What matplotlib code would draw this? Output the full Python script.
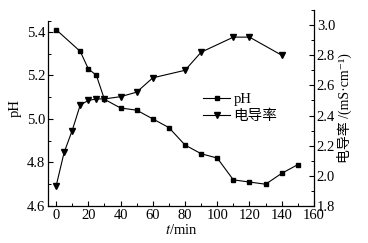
import numpy as np
import matplotlib.pyplot as plt
from matplotlib.ticker import MultipleLocator, FixedLocator

plt.rcParams['font.family'] = ['Liberation Serif', 'Noto Sans CJK SC', 'DejaVu Serif']
plt.rcParams['mathtext.fontset'] = 'stix'

# ---------------------------- dados ----------------------------
t_ph = [0, 15, 20, 25, 30, 40, 50, 60, 70, 80, 90, 100, 110, 120, 130, 140, 150]
ph = [5.41, 5.31, 5.23, 5.20, 5.09, 5.05, 5.04, 5.00, 4.96, 4.88, 4.84, 4.82,
      4.72, 4.71, 4.70, 4.75, 4.79]

t_cond = [0, 5, 10, 15, 20, 25, 30, 40, 50, 60, 80, 90, 110, 120, 140]
cond = [1.93, 2.155, 2.30, 2.47, 2.50, 2.51, 2.51, 2.525, 2.555, 2.65, 2.70,
        2.82, 2.92, 2.92, 2.80]

x_ticks = [0, 20, 40, 60, 80, 100, 120, 140, 160]
ph_ticks = [4.6, 4.8, 5.0, 5.2, 5.4]
cond_ticks = [1.8, 2.0, 2.2, 2.4, 2.6, 2.8, 3.0]

fig = plt.figure(figsize=(3.68, 2.43), dpi=100)
ax = fig.add_axes([0.1304, 0.1523, 0.7228, 0.8066])
ax2 = ax.twinx()

l1, = ax.plot(t_ph, ph, color='black', lw=0.8, marker='s', ms=3.2, label='pH')
l2, = ax2.plot(t_cond, cond, color='black', lw=0.8, marker='v', ms=4, label='电导率')

ax.set_xlim(-5, 160)
ax.set_ylim(4.6, 5.5)
ax2.set_ylim(1.8, 3.1)

ax.set_xticks(x_ticks)
ax.xaxis.set_minor_locator(MultipleLocator(10))
ax.set_yticks(ph_ticks)
ax.yaxis.set_minor_locator(FixedLocator([4.7, 4.9, 5.1, 5.3, 5.45]))
ax2.set_yticks(cond_ticks)
ax2.yaxis.set_minor_locator(MultipleLocator(0.1))

for a in (ax, ax2):
    a.spines['top'].set_visible(False)
    for s in a.spines.values():
        s.set_linewidth(0.9)
    a.tick_params(which='major', direction='in', length=3.5, width=0.8, labelsize=10.5, pad=2)
    a.tick_params(which='minor', direction='in', length=2, width=0.7)
ax.spines['right'].set_visible(False)
ax2.spines['left'].set_visible(False)
ax2.spines['bottom'].set_visible(False)
ax.spines['left'].set_bounds(4.6, 5.45)
ax.tick_params(axis='y', right=False)
ax.tick_params(axis='x', top=False)

ax.set_xlabel('$t$/min', fontsize=10.5, labelpad=1)
ax.set_ylabel('pH', fontsize=10.5, labelpad=4)
ax2.set_ylabel('电导率 /(mS·cm⁻¹)', fontsize=10, labelpad=1)

ax.legend(handles=[l1, l2], loc='center left', bbox_to_anchor=(0.56, 0.5),
          frameon=False, fontsize=10.5, handlelength=1.9, handletextpad=0.2,
          labelspacing=0.3, borderaxespad=0)

fig.savefig('out.png', dpi=100)
